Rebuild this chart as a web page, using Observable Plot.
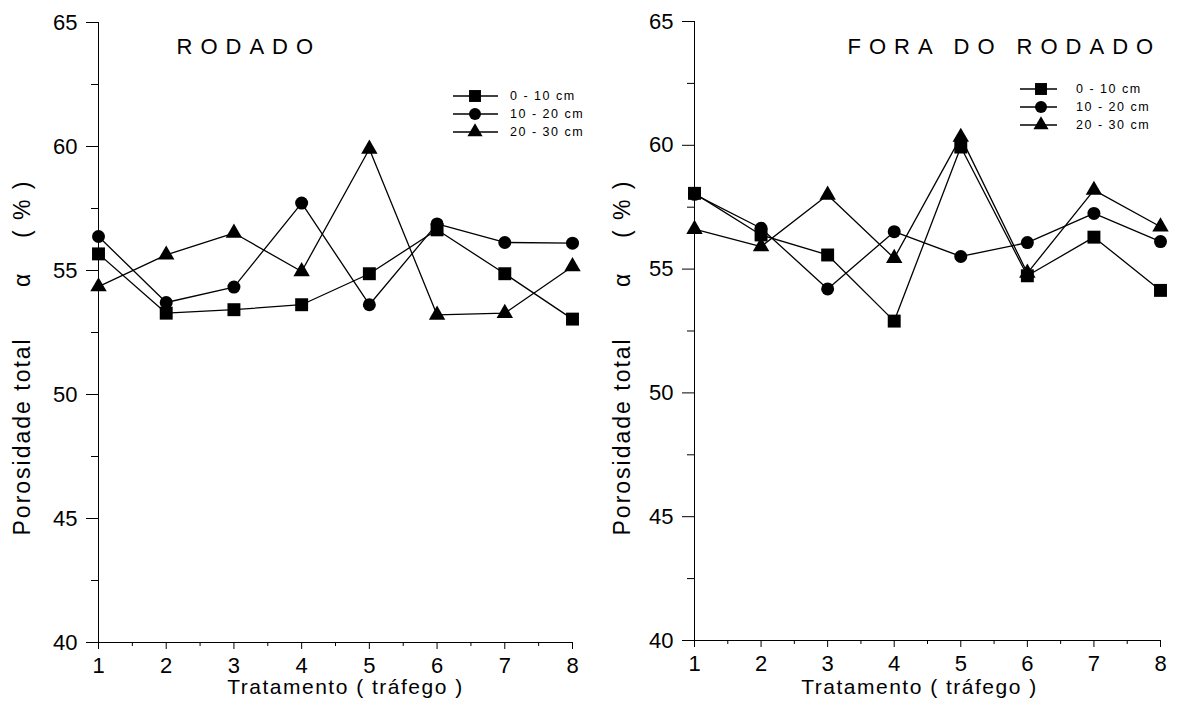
<!DOCTYPE html>
<html>
<head>
<meta charset="utf-8">
<script src="https://cdn.jsdelivr.net/npm/d3@7"></script>
<script src="https://cdn.jsdelivr.net/npm/@observablehq/plot@0.6"></script>
<style>
  body { margin: 0; background: #fff; }
  #wrap { display: flex; width: 1182px; height: 706px; overflow: hidden; }
  svg text { white-space: pre; }
</style>
</head>
<body>
<div id="wrap"></div>
<script>
// ---- data ----
const treatments = [1, 2, 3, 4, 5, 6, 7, 8];
const depths = ["0 - 10 cm", "10 - 20 cm", "20 - 30 cm"];
const symbols = ["square", "circle", "triangle"];
const symbolR = [7.3, 6.5, 6.1];

const rodado_0_10  = [55.67, 53.28, 53.42, 53.62, 54.87, 56.64, 54.87, 53.04];
const rodado_10_20 = [56.37, 53.71, 54.33, 57.72, 53.62, 56.88, 56.13, 56.10];
const rodado_20_30 = [54.35, 55.63, 56.51, 54.96, 59.90, 53.21, 53.28, 55.16];

const fora_0_10  = [58.06, 56.38, 55.57, 52.90, 59.93, 54.73, 56.29, 54.14];
const fora_10_20 = [58.02, 56.65, 54.20, 56.51, 55.51, 56.07, 57.25, 56.11];
const fora_20_30 = [56.61, 55.91, 57.99, 55.44, 60.33, 54.84, 58.19, 56.71];

const yTicks = [40, 45, 50, 55, 60, 65];
const yMinor = [42.5, 47.5, 52.5, 57.5, 62.5];
const xMinor = [1.5, 2.5, 3.5, 4.5, 5.5, 6.5, 7.5];

const titles = ["RODADO", "FORA DO RODADO"];
const xLabel = "Tratamento ( tráfego )";
const yLabel = "Porosidade total      α    ( % )";

const FONT = "'Liberation Sans', Arial, Helvetica, sans-serif";
const TICK_FONT = 22;

function makePanel(cfg) {
  const data = [];
  cfg.series.forEach((vals, i) =>
    vals.forEach((v, j) => data.push({ t: treatments[j], v, depth: depths[i] }))
  );
  const plot = Plot.plot({
    width: 591,
    height: 706,
    marginLeft: cfg.ml,
    marginRight: cfg.mr,
    marginTop: cfg.mt,
    marginBottom: cfg.mb,
    style: { fontFamily: FONT, fontSize: TICK_FONT + "px", color: "black", background: "white", overflow: "visible" },
    x: { domain: [1, 8] },
    y: { domain: [40, 65] },
    marks: [
      Plot.ruleX([1], { stroke: "black", strokeWidth: 1 }),
      Plot.ruleY([40], { stroke: "black", strokeWidth: 1.2 }),
      Plot.axisY(yTicks, { tickSize: 12, tickPadding: 9, label: null, fontSize: TICK_FONT }),
      Plot.axisY(yMinor, { tickSize: 7, tickFormat: () => "", label: null }),
      Plot.axisX(treatments, { tickSize: 7, tickPadding: 8, label: null, fontSize: TICK_FONT }),
      Plot.axisX(xMinor, { tickSize: 4, tickFormat: () => "", label: null }),
      Plot.line(data, { x: "t", y: "v", z: "depth", stroke: "black", strokeWidth: 1.3 }),
      ...depths.map((dep, i) =>
        Plot.dot(data.filter(d => d.depth === dep), {
          x: "t", y: "v", symbol: symbols[i], r: symbolR[i], fill: "black", stroke: "none"
        })
      ),
      Plot.text([cfg.title], {
        text: d => d, frameAnchor: "top-left", dx: cfg.titleDx, dy: cfg.titleDy,
        textAnchor: "start", lineAnchor: "middle", fontSize: 22
      }),
      Plot.text([xLabel], {
        text: d => d, frameAnchor: "bottom", dx: cfg.xlDx, dy: cfg.xlDy,
        textAnchor: "middle", lineAnchor: "middle", fontSize: 21
      }),
      Plot.text([yLabel], {
        text: d => d, frameAnchor: "bottom-left", dx: cfg.ylDx, dy: cfg.ylDy, rotate: -90,
        textAnchor: "start", lineAnchor: "middle", fontSize: 23
      })
    ]
  });
  const svg = d3.select(plot);
  const byText = s => svg.selectAll("text").filter(function () { return this.textContent === s; });
  byText(cfg.title).style("letter-spacing", "8px", "important").style("font-size", "22px", "important");
  byText(xLabel).style("letter-spacing", "1.5px", "important").style("font-size", "21px", "important");
  byText(yLabel).style("letter-spacing", "2px", "important").style("font-size", "23px", "important");
  svg.selectAll("text")
    .filter(function () { return /^\s*\d+\s*$/.test(this.textContent); })
    .attr("font-size", TICK_FONT)
    .style("font-size", TICK_FONT + "px", "important");

  // legend
  const lg = svg.append("g").attr("class", "legend");
  depths.forEach((dep, i) => {
    const y = cfg.legY[i];
    lg.append("line")
      .attr("x1", cfg.legX0).attr("x2", cfg.legX1)
      .attr("y1", y).attr("y2", y)
      .attr("stroke", "black").attr("stroke-width", 1.3);
    const sym = { square: d3.symbolSquare, circle: d3.symbolCircle, triangle: d3.symbolTriangle }[symbols[i]];
    lg.append("path")
      .attr("transform", `translate(${cfg.legXm},${y})`)
      .attr("d", d3.symbol(sym, Math.PI * symbolR[i] * symbolR[i] * 0.85)())
      .attr("fill", "black");
    lg.append("text")
      .attr("x", cfg.legXt).attr("y", y).attr("dy", "0.35em")
      .attr("text-anchor", "start")
      .style("font-size", "12.5px", "important").style("letter-spacing", "1.5px", "important")
      .attr("font-family", FONT).attr("fill", "black")
      .text(dep);
  });
  return plot;
}

const wrap = document.getElementById("wrap");
wrap.append(makePanel({
  series: [rodado_0_10, rodado_10_20, rodado_20_30],
  title: titles[0],
  ml: 98, mr: 19, mt: 22, mb: 64,
  titleDx: 78, titleDy: 24.5,
  xlDx: 10, xlDy: 45,
  ylDx: -76, ylDy: -107,
  legY: [96, 114, 132], legX0: 453, legX1: 498, legXm: 475, legXt: 510
}));
wrap.append(makePanel({
  series: [fora_0_10, fora_10_20, fora_20_30],
  title: titles[1],
  ml: 103, mr: 22, mt: 21, mb: 66,
  titleDx: 153, titleDy: 25,
  xlDx: -8, xlDy: 47,
  ylDx: -72, ylDy: -105,
  legY: [89, 107, 125], legX0: 429, legX1: 466, legXm: 450, legXt: 485
}));
</script>
</body>
</html>
